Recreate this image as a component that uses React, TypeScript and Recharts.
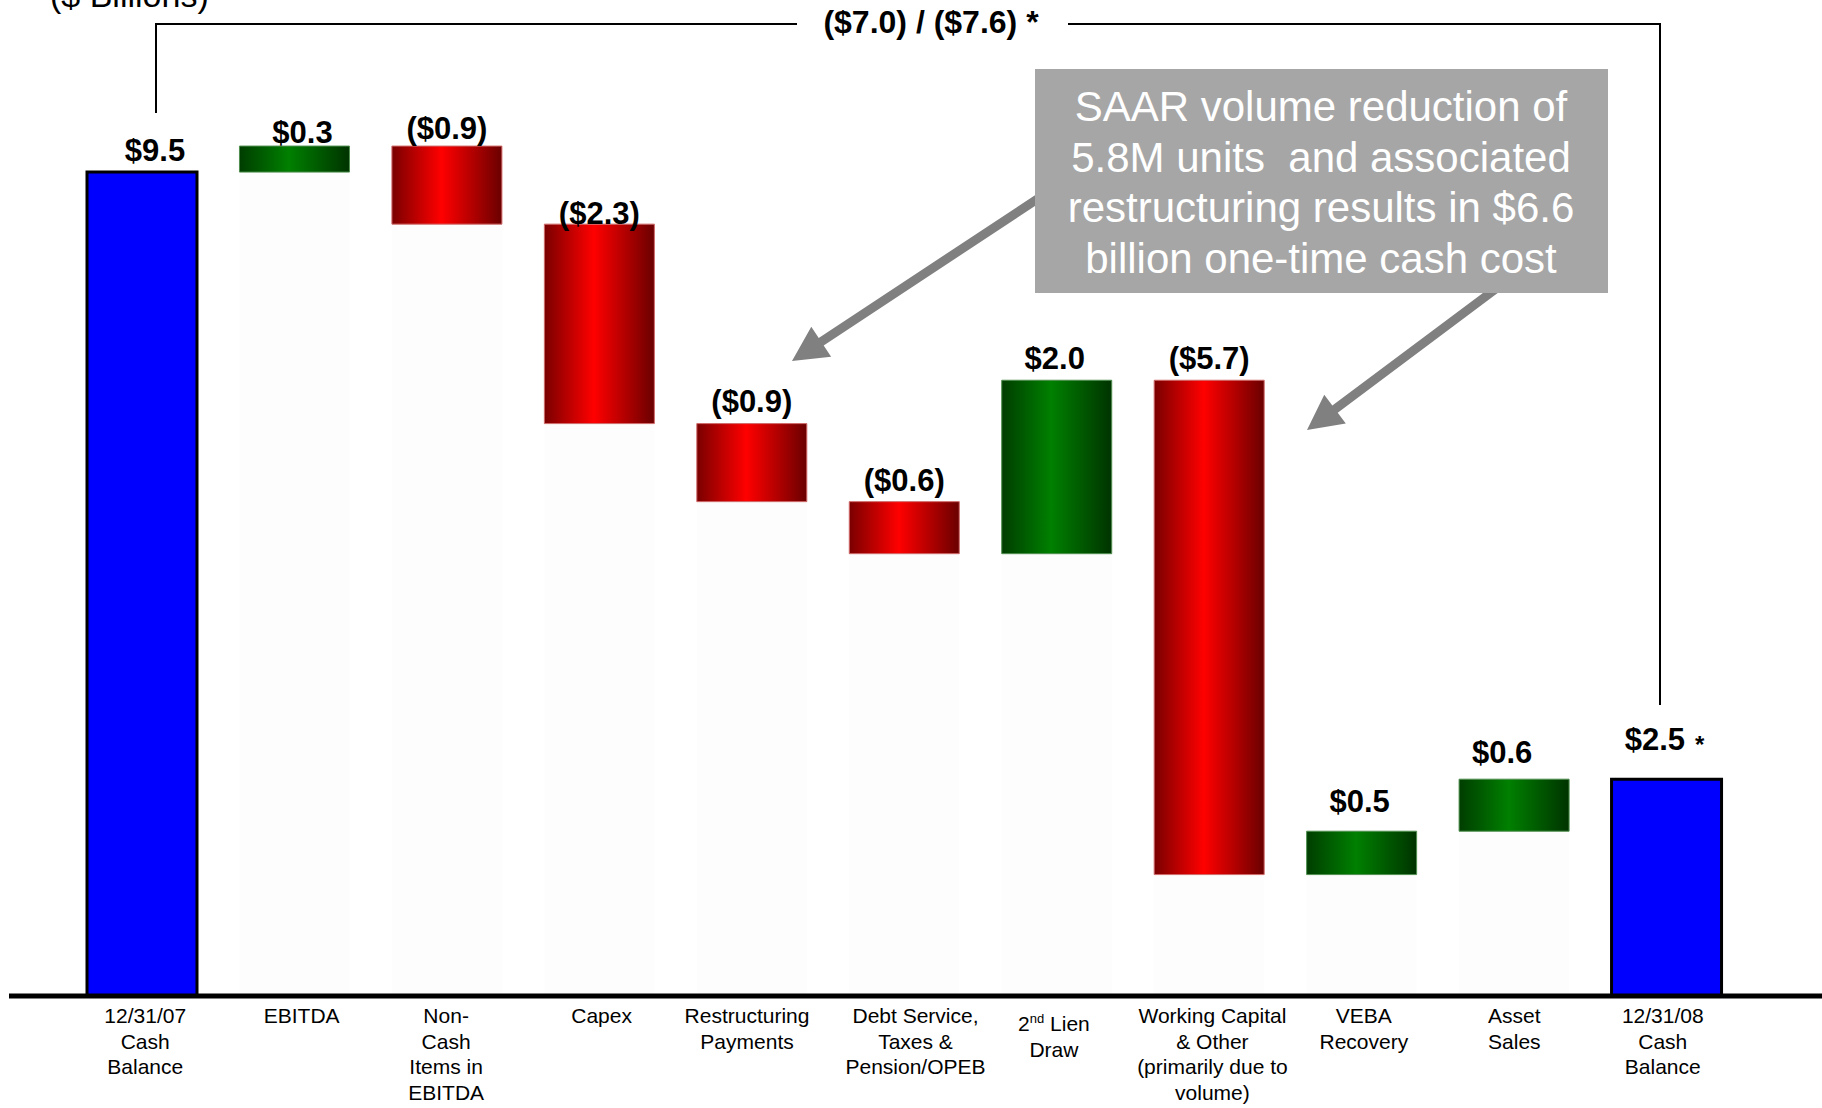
import React from 'react';
import { BarChart, Bar, XAxis, YAxis, Cell, LabelList } from 'recharts';

// categories, in the order they sit on the axis
const categoryNames = [
  'Cash 07', 'EBITDA', 'Non-Cash', 'Capex', 'Restructuring', 'Debt Service',
  '2nd Lien', 'Working Capital', 'VEBA', 'Asset Sales', 'Cash 08',
];

// tick labels, one entry per line
const categoryLines: string[][] = [
  ['12/31/07', 'Cash', 'Balance'],
  ['EBITDA'],
  ['Non-', 'Cash', 'Items in', 'EBITDA'],
  ['Capex'],
  ['Restructuring', 'Payments'],
  ['Debt Service,', 'Taxes &', 'Pension/OPEB'],
  ['2nd Lien', 'Draw'],
  ['Working Capital', '& Other', '(primarily due to', 'volume)'],
  ['VEBA', 'Recovery'],
  ['Asset', 'Sales'],
  ['12/31/08', 'Cash', 'Balance'],
];

// $ billions: balances for the two totals, changes in between
const values = [9.5, 0.3, -0.9, -2.3, -0.9, -0.6, 2.0, -5.7, 0.5, 0.6, 2.5];
const kinds = ['total', 'up', 'down', 'down', 'down', 'down', 'up', 'down', 'up', 'up', 'total'];
const valueLabels = ['$9.5', '$0.3', '($0.9)', '($2.3)', '($0.9)', '($0.6)', '$2.0', '($5.7)', '$0.5', '$0.6', '$2.5'];
const footnoteIndex = 10;

const bracketText = '($7.0) / ($7.6) *';
const calloutLines = [
  'SAAR volume reduction of',
  '5.8M units  and associated',
  'restructuring results in $6.6',
  'billion one-time cash cost',
];

// hand placement of the labels in the original slide (px)
const labelNudge: [number, number][] = [
  [13, -2], [8, 6], [0, 2], [0, 9], [0, -3], [0, -2], [-2, -2], [0, -2], [-2, -10], [-12, -7], [-2, -20],
];
const tickNudge: [number, number][] = [
  [3, 0], [7, 0], [-1, 0], [2, 0], [-5, 0], [11, 0], [-3, 8], [3, 0], [2, 0], [0, 0], [-4, 0],
];

// build the waterfall rows: invisible base + visible span
let running = 0;
const rows = values.map((v, i) => {
  let base: number;
  let span: number;
  if (kinds[i] === 'total') {
    base = 0;
    span = v;
    running = v;
  } else {
    const next = running + v;
    base = Math.min(running, next);
    span = Math.abs(v);
    running = next;
  }
  return { name: categoryNames[i], base, span, label: valueLabels[i] };
});

const fills: Record<string, string> = {
  total: '#0000ff',
  up: 'url(#gradGreen)',
  down: 'url(#gradRed)',
};
const strokes: Record<string, string> = {
  total: '#000000',
  up: '#4f8f4f',
  down: '#d06a6a',
};

function CategoryTick(props: any) {
  const { payload } = props;
  const [nx, ny] = tickNudge[payload.index] || [0, 0];
  const x = props.x + nx;
  const y = props.y + ny;
  const lines = categoryLines[payload.index] || [];
  return (
    <text x={x} y={y + 19} textAnchor="middle" fontSize={21} fill="#000">
      {lines.map((line, i) => {
        const dy = i === 0 ? 0 : 25.5;
        if (line.startsWith('2nd')) {
          return (
            <tspan key={i} x={x} dy={dy}>
              2<tspan dy={-8} fontSize={13}>nd</tspan>
              <tspan dy={8}>{line.slice(3)}</tspan>
            </tspan>
          );
        }
        return (
          <tspan key={i} x={x} dy={dy}>
            {line}
          </tspan>
        );
      })}
    </text>
  );
}

function ValueLabel(props: any) {
  const { x, y, width, index, value } = props;
  const [nx, ny] = labelNudge[index] || [0, 0];
  return (
    <text x={x + width / 2 + nx} y={y - 9 + ny} textAnchor="middle" fontSize={31} fontWeight="bold" fill="#000">
      {value}
      {index === footnoteIndex && (
        <tspan dx={10} dy={3} fontSize={24}>
          *
        </tspan>
      )}
    </text>
  );
}

function arrowPoints(tail: [number, number], tip: [number, number], stem: number, headLen: number, headW: number) {
  const dx = tail[0] - tip[0];
  const dy = tail[1] - tip[1];
  const len = Math.hypot(dx, dy);
  const ux = dx / len;
  const uy = dy / len;
  const nx = -uy;
  const ny = ux;
  const neck = [tip[0] + ux * headLen, tip[1] + uy * headLen];
  const pts = [
    [tail[0] + (nx * stem) / 2, tail[1] + (ny * stem) / 2],
    [neck[0] + (nx * stem) / 2, neck[1] + (ny * stem) / 2],
    [neck[0] + (nx * headW) / 2, neck[1] + (ny * headW) / 2],
    tip,
    [neck[0] - (nx * headW) / 2, neck[1] - (ny * headW) / 2],
    [neck[0] - (nx * stem) / 2, neck[1] - (ny * stem) / 2],
    [tail[0] - (nx * stem) / 2, tail[1] - (ny * stem) / 2],
  ];
  return pts.map((p) => p.join(',')).join(' ');
}

function Annotations() {
  return (
    <svg width={1822} height={1108} style={{ position: 'absolute', left: 0, top: 0, pointerEvents: 'none' }}>
      <text x={50} y={7} fontSize={34} fill="#000">
        ($ Billions)
      </text>

      <polyline points="156,113 156,24 797,24" fill="none" stroke="#000" strokeWidth={2} />
      <polyline points="1068,24 1660,24 1660,705" fill="none" stroke="#000" strokeWidth={2} />
      <text x={931} y={33} textAnchor="middle" fontSize={32} fontWeight="bold" fill="#000">
        {bracketText}
      </text>

      <polygon points={arrowPoints([1045, 194], [792, 361], 9, 35, 36)} fill="#808080" />
      <polygon points={arrowPoints([1497, 288], [1307, 430], 9, 35, 36)} fill="#808080" />

      <rect x={1035} y={69} width={573} height={224} fill="#a6a6a6" />
      <text textAnchor="middle" fontSize={42} fill="#ffffff" style={{ whiteSpace: 'pre' }}>
        {calloutLines.map((line, i) => (
          <tspan key={i} x={1321} y={121 + i * 50.7}>
            {line}
          </tspan>
        ))}
      </text>
    </svg>
  );
}

export default function App() {
  return (
    <div
      style={{
        position: 'absolute',
        left: 0,
        top: 0,
        width: 1822,
        height: 1108,
        background: '#fff',
        fontFamily: '"Liberation Sans", Arial, sans-serif',
      }}
    >
      <BarChart width={1822} height={1108} data={rows} margin={{ top: 42, right: 0, bottom: 0, left: 9 }} barCategoryGap={0}>
        <defs>
          <linearGradient id="gradRed" x1="0" y1="0" x2="1" y2="0">
            <stop offset="0%" stopColor="#7a0000" />
            <stop offset="45%" stopColor="#ff0000" />
            <stop offset="100%" stopColor="#6a0000" />
          </linearGradient>
          <linearGradient id="gradGreen" x1="0" y1="0" x2="1" y2="0">
            <stop offset="0%" stopColor="#003d00" />
            <stop offset="45%" stopColor="#008000" />
            <stop offset="100%" stopColor="#003300" />
          </linearGradient>
        </defs>
        <XAxis
          dataKey="name"
          height={112}
          padding={{ left: 57, right: 79 }}
          axisLine={{ stroke: '#000', strokeWidth: 5 }}
          tickLine={false}
          tick={<CategoryTick />}
          interval={0}
        />
        <YAxis hide domain={[0, 11]} />
        <Bar dataKey="base" stackId="w" fill="#fdfdfd" barSize={110} isAnimationActive={false} />
        <Bar dataKey="span" stackId="w" barSize={110} isAnimationActive={false}>
          {rows.map((r, i) => (
            <Cell
              key={r.name}
              fill={fills[kinds[i]]}
              stroke={strokes[kinds[i]]}
              strokeWidth={kinds[i] === 'total' ? 3 : 1}
            />
          ))}
          <LabelList dataKey="label" content={<ValueLabel />} />
        </Bar>
      </BarChart>
      <Annotations />
    </div>
  );
}
